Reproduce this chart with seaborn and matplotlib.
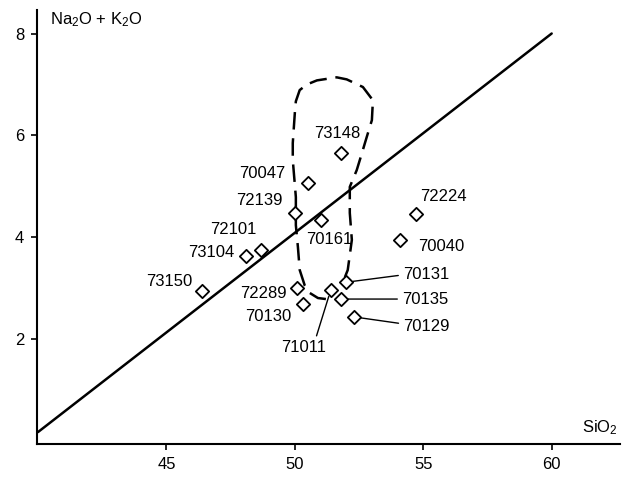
import numpy as np
import pandas as pd
import matplotlib
matplotlib.use("Agg")
import matplotlib.pyplot as plt
import seaborn as sns

# Sample analyses: SiO2 vs total alkalis (wt%)
samples = ["73150", "73104", "72101", "72139", "70047", "73148", "70161",
           "72289", "70130", "71011", "70131", "70135", "70129", "72224", "70040"]
sio2 = [46.4, 48.1, 48.7, 50.0, 50.5, 51.8, 51.0,
        50.1, 50.3, 51.4, 52.0, 51.8, 52.3, 54.7, 54.1]
alkalis = [2.95, 3.63, 3.76, 4.48, 5.07, 5.65, 4.35,
           3.00, 2.69, 2.97, 3.12, 2.79, 2.44, 4.45, 3.95]

# Alkaline / subalkaline dividing line
divider_sio2 = [40.0, 60.0]
divider_alk = [0.18, 8.0]

# Dashed field enclosing the central group
field_sio2 = [51.95, 52.06, 52.22, 52.14, 52.14, 52.41, 52.61, 52.80, 53.00, 53.04,
              52.65, 52.02, 51.63, 50.86, 50.47, 50.19, 50.04, 50.00, 49.92, 49.92,
              50.04, 50.04, 50.12, 50.19, 50.39, 50.58, 50.90, 51.21]
field_alk = [3.22, 3.36, 3.95, 4.48, 4.99, 5.32, 5.65, 5.97, 6.30, 6.69,
             6.95, 7.10, 7.14, 7.08, 7.00, 6.89, 6.67, 6.44, 5.85, 5.52,
             4.79, 4.24, 3.81, 3.36, 3.05, 2.91, 2.81, 2.79]

x_ticks = [45, 50, 55, 60]
y_ticks = [2, 4, 6, 8]

# label offsets (points) from each sample marker
label_offsets = {
    "73148": (-2.7, 14.6), "70047": (-32.5, 7.0), "72139": (-25.2, 9.0),
    "72101": (-19.9, 14.6), "73104": (-25.3, 2.9), "73150": (-23.9, 7.0),
    "70161": (6.3, -14.2), "72289": (-24.6, -3.6), "70130": (-24.8, -9.0),
    "71011": (-19.4, -41.8), "70131": (57.5, 5.3), "70135": (60.5, 0.0),
    "70129": (52.2, -7.2), "72224": (20.0, 13.2), "70040": (29.7, -4.8),
}
leader_relpos = {"71011": (0.75, 1.0), "70131": (0.0, 0.5),
                 "70135": (0.0, 0.5), "70129": (0.0, 0.7)}

sns.set_style("ticks")
plt.rcParams["font.family"] = ["Liberation Sans", "DejaVu Sans"]
plt.rcParams["mathtext.fontset"] = "custom"
plt.rcParams["mathtext.rm"] = "Liberation Sans"
plt.rcParams["mathtext.it"] = "Liberation Sans"
plt.rcParams["text.color"] = "black"

fig = plt.figure(figsize=(6.24, 4.79), dpi=100)
ax = fig.add_axes([0.0588, 0.0724, 0.9348, 0.9066])

df = pd.DataFrame({"SiO2": sio2, "alk": alkalis, "sample": samples})
div = pd.DataFrame({"SiO2": divider_sio2, "alk": divider_alk})

sns.lineplot(data=div, x="SiO2", y="alk", ax=ax, color="black", lw=1.8, zorder=2)
ax.plot(field_sio2, field_alk, color="black", lw=1.8, dashes=(7, 3.5),
        solid_capstyle="butt", zorder=2)
sns.scatterplot(data=df, x="SiO2", y="alk", ax=ax, marker="D", s=46,
                facecolor="white", edgecolor="black", linewidth=1.3, zorder=3)

for name, xv, yv in zip(samples, sio2, alkalis):
    dx, dy = label_offsets[name]
    kw = {}
    if name in leader_relpos:
        kw["arrowprops"] = dict(arrowstyle="-", color="black", lw=1.0,
                                shrinkA=1, shrinkB=5,
                                relpos=leader_relpos[name])
    ax.annotate(name, (xv, yv), xytext=(dx, dy), textcoords="offset points",
                ha="center", va="center", fontsize=12, color="black", **kw)

ax.set_xlim(39.95, 62.66)
ax.set_ylim(-0.06, 8.46)
ax.set_xticks(x_ticks)
ax.set_yticks(y_ticks)
ax.set_xlabel("")
ax.set_ylabel("")
ax.tick_params(axis="both", direction="out", length=4, width=1.2,
               labelsize=12, pad=5, color="black", labelcolor="black")
sns.despine(ax=ax)
for s in ("left", "bottom"):
    ax.spines[s].set_linewidth(1.5)
    ax.spines[s].set_color("black")

ax.text(0.023, 0.977, r"Na$_2$O + K$_2$O", transform=ax.transAxes,
        ha="left", va="center", fontsize=12, color="black")
ax.text(0.997, 0.0375, r"SiO$_2$", transform=ax.transAxes,
        ha="right", va="center", fontsize=12, color="black")

fig.savefig("out.png", dpi=100)
